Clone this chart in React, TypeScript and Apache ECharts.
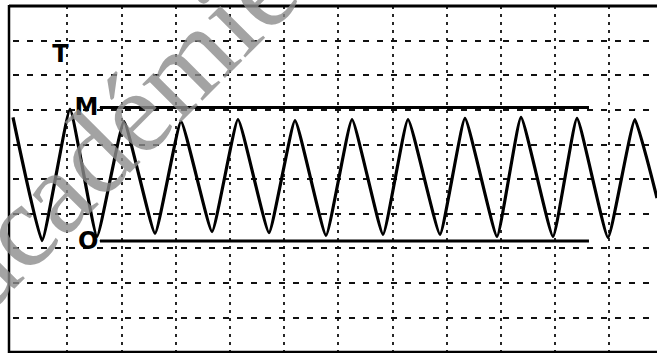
import React, { useEffect, useRef } from "react";
import * as echarts from "echarts";

const waveX = [0, 0.535, 1.052, 1.55, 2.048, 2.62, 3.1, 3.672, 4.151, 4.723, 5.203, 5.775, 6.255, 6.827, 7.288, 7.878, 8.339, 8.93, 9.373, 9.963, 10.406, 10.978, 11.476, 11.882];
const waveY = [6.78, 3.22, 7.01, 3.34, 6.66, 3.43, 6.66, 3.48, 6.72, 3.45, 6.69, 3.37, 6.72, 3.4, 6.72, 3.4, 6.75, 3.34, 6.78, 3.34, 6.75, 3.31, 6.72, 4.45];

// Reference levels M (max) and O (min)
const levelNames = ["M", "O"];
const levelValues = [7.07, 3.21];
const levelStartX = 1.605;
const levelEndX = 10.627;

const periodLabel = "T";
const watermark = "académie";

const X_MAX = 11.882;
const Y_MAX = 10;

export default function App() {
  const ref = useRef<HTMLDivElement>(null);
  useEffect(() => {
    if (!ref.current) return;
    const chart = echarts.init(ref.current, null, { renderer: "svg" });
    const wave = waveX.map((x, i) => [x, waveY[i]]);
    const levelSeries = levelNames.map((name, i) => ({
      type: "line",
      name,
      symbol: "circle",
      symbolSize: 1,
      showSymbol: true,
      itemStyle: { color: "#000" },
      lineStyle: { color: "#000", width: 3 },
      z: 3,
      data: [
        {
          value: [levelStartX, levelValues[i]],
          label: {
            show: true,
            formatter: name,
            position: "left",
            distance: 1,
            color: "#000",
            fontFamily: "DejaVu Sans",
            fontWeight: "bold",
            fontSize: 24,
          },
        },
        { value: [levelEndX, levelValues[i]], symbol: "none" },
      ],
    }));
    chart.setOption({
      animation: false,
      backgroundColor: "#fff",
      grid: { left: 13, right: 0, top: 6, bottom: 1 },
      xAxis: {
        type: "value",
        min: 0,
        max: X_MAX,
        interval: 1,
        axisLine: { show: false },
        axisTick: { show: false },
        axisLabel: { show: false },
        splitLine: {
          show: true,
          showMinLine: false,
          showMaxLine: false,
          lineStyle: { color: "#111", width: 1.8, type: [3, 5] },
        },
      },
      yAxis: {
        type: "value",
        min: 0,
        max: Y_MAX,
        interval: 1,
        axisLine: { show: false },
        axisTick: { show: false },
        axisLabel: { show: false },
        splitLine: {
          show: true,
          showMinLine: false,
          showMaxLine: false,
          lineStyle: { color: "#111", width: 1.8, type: [6, 8] },
        },
      },
      series: [
        {
          type: "line",
          name: "trace",
          data: wave,
          symbol: "none",
          smooth: 0.12,
          lineStyle: { color: "#000", width: 3.2 },
          z: 4,
        },
        ...levelSeries,
      ],
      graphic: [
        { type: "line", shape: { x1: 9, y1: 6, x2: 657, y2: 6 }, style: { stroke: "#000", lineWidth: 3 }, z: 5 },
        { type: "line", shape: { x1: 9, y1: 5, x2: 9, y2: 353 }, style: { stroke: "#000", lineWidth: 2.5 }, z: 5 },
        { type: "line", shape: { x1: 9, y1: 352, x2: 657, y2: 352 }, style: { stroke: "#000", lineWidth: 2.5 }, z: 5 },
        {
          type: "text",
          x: 60.5,
          y: 54,
          z: 6,
          style: {
            text: periodLabel,
            fill: "#000",
            font: "bold 24px 'DejaVu Sans'",
            align: "center",
            verticalAlign: "middle",
            textAlign: "center",
            textVerticalAlign: "middle",
          },
        },
        {
          type: "text",
          x: -39,
          y: 286,
          rotation: Math.PI / 4,
          z: 100,
          style: {
            text: watermark,
            fill: "rgba(140,140,140,0.8)",
            font: "normal 118px 'Liberation Serif'",
            align: "left",
            verticalAlign: "middle",
            textAlign: "left",
            textVerticalAlign: "middle",
          },
        },
      ],
    });
    return () => chart.dispose();
  }, []);
  return (
    <div style={{ position: "fixed", left: 0, top: 0, width: 657, height: 353, background: "#fff" }}>
      <div ref={ref} style={{ width: 657, height: 353 }} />
    </div>
  );
}
